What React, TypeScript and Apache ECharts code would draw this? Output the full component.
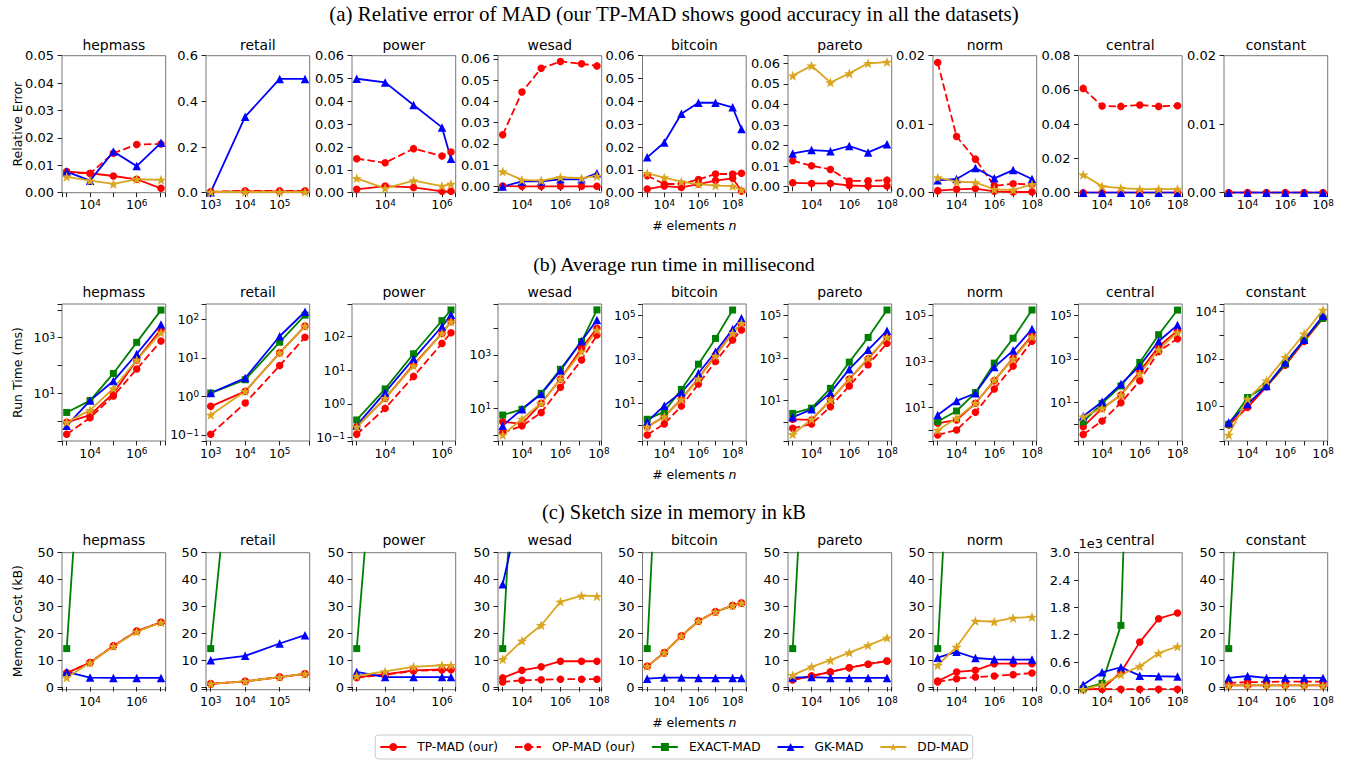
import React, { useEffect, useRef } from 'react';
import * as echarts from 'echarts';

const FONT = 'DejaVu Sans';
const SERIF = 'Liberation Serif';

const DATASETS = ['hepmass', 'retail', 'power', 'wesad', 'bitcoin', 'pareto', 'norm', 'central', 'constant'];
const METHODS = ['TP-MAD (our)', 'OP-MAD (our)', 'EXACT-MAD', 'GK-MAD', 'DD-MAD'];
const TITLES = [
  '(a) Relative error of MAD (our TP-MAD shows good accuracy in all the datasets)',
  '(b) Average run time in millisecond',
  '(c) Sketch size in memory in kB',
];
const Y_LABELS = ['Relative Error', 'Run Time (ms)', 'Memory Cost (kB)'];

// number of elements n (x values) per dataset
const N_HEPMASS = [1e3, 1e4, 1e5, 1e6, 1.1e7];
const N_RETAIL = [1e3, 1e4, 1e5, 5.42e5];
const N_POWER = [1e3, 1e4, 1e5, 1e6, 2.075e6];
const N_WESAD = [1e3, 1e4, 1e5, 1e6, 1.25e7, 7.9e7];
const N_BITCOIN = [1e3, 1e4, 1e5, 1e6, 1e7, 1e8, 3.3e8];
const N_SYNTH = [1e3, 1e4, 1e5, 1e6, 1e7, 1e8];
const N_VALUES = [N_HEPMASS, N_RETAIL, N_POWER, N_WESAD, N_BITCOIN, N_SYNTH, N_SYNTH, N_SYNTH, N_SYNTH];

// x tick label exponents
const X_TICK_EXPONENTS = [[4, 6], [3, 4, 5], [4, 6], [4, 6, 8], [4, 6, 8], [4, 6, 8], [4, 6, 8], [4, 6, 8], [4, 6, 8]];

// (a) relative error
const ERR_TP = [
  [0.0077, 0.0071, 0.0061, 0.0049, 0.0016],
  [0.003, 0.006, 0.006, 0.006],
  [0.0015, 0.0029, 0.0023, 0.0006, 0.0006],
  [0.0002, 0.0001, 0.0001, 0.0001, 0.0001, 0.0001],
  [0.0016, 0.0029, 0.0023, 0.0038, 0.0053, 0.0063, 0.0007],
  [0.0019, 0.0016, 0.0016, 0.0006, 0.0003, 0.0003],
  [0.0003, 0.0005, 0.0006, 0.0002, 0.0001, 0.0001],
  [0, 0, 0, 0, 0, 0],
  [0, 0, 0, 0, 0, 0],
];
const ERR_OP = [
  [0.0075, 0.007, 0.0144, 0.0176, 0.0178],
  [0.004, 0.008, 0.008, 0.008],
  [0.0149, 0.0131, 0.0193, 0.0161, 0.0178],
  [0.0243, 0.0444, 0.0556, 0.0588, 0.0577, 0.0567],
  [0.0074, 0.0038, 0.0038, 0.0058, 0.0082, 0.0082, 0.0085],
  [0.0126, 0.0102, 0.0084, 0.0028, 0.0029, 0.0032],
  [0.019, 0.0082, 0.0049, 0.001, 0.0013, 0.0012],
  [0.0609, 0.0506, 0.0504, 0.0512, 0.0504, 0.0508],
  [0, 0, 0, 0, 0, 0],
];
const ERR_EXACT = [null, null, null, null, null, null, null, null, null];
const ERR_GK = [
  [0.0077, 0.0044, 0.015, 0.0097, 0.0182],
  [0.002, 0.333, 0.4985, 0.4985],
  [0.0499, 0.0483, 0.0384, 0.0286, 0.0149],
  [0, 0.0024, 0.0024, 0.0034, 0.0034, 0.0063],
  [0.0155, 0.022, 0.0346, 0.0394, 0.0394, 0.0374, 0.0279],
  [0.0162, 0.0178, 0.0173, 0.0198, 0.0167, 0.0206],
  [0.0018, 0.002, 0.0036, 0.0021, 0.0033, 0.002],
  [0, 0, 0, 0, 0, 0],
  [0, 0, 0, 0, 0, 0],
];
const ERR_DD = [
  [0.0058, 0.0044, 0.0032, 0.0049, 0.0047],
  [0.003, 0.003, 0.003, 0.003],
  [0.0063, 0.0019, 0.0053, 0.0029, 0.0038],
  [0.0071, 0.0031, 0.0028, 0.0044, 0.0039, 0.005],
  [0.0085, 0.0066, 0.0048, 0.0038, 0.0031, 0.0029, 0.0013],
  [0.054, 0.0588, 0.0507, 0.0551, 0.06, 0.0606],
  [0.0022, 0.0016, 0.0015, 0.0005, 0.0004, 0.0012],
  [0.0105, 0.0037, 0.0027, 0.0021, 0.0021, 0.0021],
  null,
];
const ERR_MIN = [0, 0, 0, -0.0029, 0, -0.0029, 0, 0, 0];
const ERR_MAX = [0.05, 0.6, 0.06, 0.0615, 0.06, 0.0637, 0.02, 0.08, 0.02];
const ERR_STEP = [0.01, 0.2, 0.01, 0.01, 0.01, 0.01, 0.01, 0.02, 0.01];
const ERR_DECIMALS = [2, 1, 2, 2, 2, 2, 2, 2, 2];

// (b) run time in ms
const TIME_TP = [
  [0.91, 1.67, 10, 158, 1990],
  [0.55, 1.35, 13.5, 67],
  [0.21, 1.47, 14.7, 125, 280],
  [3.16, 2.6, 15.4, 126, 1780, 10000],
  [0.86, 2.46, 15.8, 138, 1580, 16600, 41500],
  [1.32, 1.23, 10.7, 104, 930, 9600],
  [2.0, 2.8, 15, 146, 1400, 13500],
  [0.76, 5.3, 22, 265, 3800, 20500],
  [0.16, 0.88, 6.6, 54, 540, 5200],
];
const TIME_OP = [
  [0.34, 1.34, 8, 75, 760],
  [0.104, 0.67, 6.3, 34.5],
  [0.125, 0.74, 6.6, 63, 131],
  [1.23, 2.2, 6.9, 61, 650, 5600],
  [0.36, 1.15, 7.5, 76, 800, 7700, 22000],
  [0.5, 0.8, 5.2, 49, 490, 5000],
  [0.62, 1.02, 6.1, 63, 630, 7700],
  [0.33, 1.4, 9.6, 100, 2250, 8700],
  [0.16, 0.9, 6.8, 56, 560, 5300],
];
const TIME_EXACT = [
  [2.07, 5.5, 52, 680, 9800],
  [1.22, 2.7, 25.5, 129],
  [0.335, 2.8, 31, 300, 620],
  [5.6, 9.2, 36.5, 290, 3160, 49000],
  [1.86, 4.2, 43, 610, 9100, 180000, null],
  [2.5, 4.4, 38, 650, 9400, 185000],
  [2.4, 6.9, 43.7, 850, 10400, 177000],
  [1.28, 9, 57, 700, 13300, 182000],
  [0.17, 2.3, 7, 60, 640, 5200],
];
const TIME_GK = [
  [0.69, 5.5, 27.7, 260, 3000],
  [1.22, 3.0, 36.5, 158],
  [0.23, 2.2, 22, 200, 445],
  [2.24, 9.2, 34.6, 260, 3350, 20500],
  [1.45, 7.8, 31.8, 235, 2250, 24000, 76000],
  [1.65, 3.9, 23.8, 303, 2460, 19600],
  [4.6, 19, 41, 570, 3000, 26000],
  [2.3, 10.7, 70, 490, 6600, 37000],
  [0.2, 1.2, 7, 70, 640, 6600],
];
const TIME_DD = [
  [0.91, 2.5, 15, 158, 1510],
  [0.33, 1.35, 13.5, 67],
  [0.21, 1.47, 13.7, 125, 275],
  [1.0, 4, 15.4, 126, 1330, 8600],
  [0.86, 2.46, 15, 130, 1430, 15500, 44600],
  [0.26, 1.32, 10.7, 104, 1000, 9600],
  [1.0, 3.3, 15, 155, 1300, 12000],
  [2.2, 5.3, 22, 210, 2700, 17000],
  [0.06, 2.0, 11.8, 117, 1150, 11700],
];
const TIME_LOG_MIN = [-0.71, -1.16, -1.1, -0.225, -0.72, -0.9, -0.47, -0.78, -1.48];
const TIME_LOG_MAX = [4.21, 2.4, 2.97, 4.91, 5.53, 5.55, 5.51, 5.54, 4.32];
const TIME_TICK_EXPONENTS = [[1, 3], [-1, 0, 1, 2], [-1, 0, 1, 2], [1, 3], [1, 3, 5], [1, 3, 5], [1, 3, 5], [1, 3, 5], [0, 2, 4]];

// (c) memory in kB
const MEM_TP = [
  [5.2, 9.1, 15.3, 20.8, 24.1],
  [1.2, 2.1, 3.7, 4.9],
  [3.7, 4.7, 6.2, 6.6, 6.6],
  [3.4, 6.2, 7.5, 9.6, 9.6, 9.6],
  [7.7, 12.8, 19, 24.6, 28, 30.3, 31.3],
  [2.7, 4.1, 5.6, 7.2, 8.5, 9.7],
  [2.2, 5.6, 6.2, 8.7, 8.7, 8.7],
  [5, 12, 375, 1037, 1551, 1676],
  [0.6, 0.6, 0.6, 0.6, 0.6, 0.6],
];
const MEM_OP = [
  [5.2, 9.1, 15.3, 20.8, 24.1],
  [1.2, 2.1, 3.7, 4.9],
  [3.5, 4.6, 6.0, 6.3, 6.4],
  [1.9, 2.5, 2.7, 2.9, 2.9, 2.9],
  [7.7, 12.8, 19, 24.6, 28, 30.3, 31.3],
  [2.7, 4.1, 5.6, 7.2, 8.5, 9.7],
  [1.9, 3.1, 3.7, 4.1, 4.6, 5.2],
  [2, 3, 3, 3, 3, 3],
  [1.5, 1.8, 1.9, 2.0, 2.0, 2.0],
];
const MEM_EXACT = [
  [14.3, 143, 1430, 14300, 157000],
  [14.3, 143, 1430, 7750],
  [14.3, 143, 1430, 14300, 29700],
  [14.3, 143, 1430, 14300, 179000, 1130000],
  [14.3, 143, 1430, 14300, 143000, 1430000, null],
  [14.3, 143, 1430, 14300, 143000, 1430000],
  [14.3, 143, 1430, 14300, 143000, 1430000],
  [14, 132, 1404, 14000, 140000, 1400000],
  [14.3, 143, 1430, 14300, 143000, 1430000],
];
const MEM_GK = [
  [5.6, 3.5, 3.4, 3.4, 3.4],
  [10.0, 11.6, 16.2, 19.3],
  [5.6, 3.7, 3.7, 3.7, 3.7],
  [38.3, 70, 95, 110, 120, 125],
  [3.1, 3.5, 3.5, 3.4, 3.4, 3.4, 3.4],
  [3.5, 3.7, 3.4, 3.4, 3.4, 3.4],
  [10.9, 13.1, 10.8, 10.3, 10.2, 10.2],
  [103, 375, 485, 300, 287, 280],
  [3.4, 4.1, 3.4, 3.4, 3.4, 3.4],
];
const MEM_DD = [
  [3.5, 9, 15.2, 20.6, 24],
  [1.2, 2.1, 3.7, 4.9],
  [4.1, 5.8, 7.5, 8.1, 8.1],
  [10.3, 17.2, 23, 31.7, 34, 33.8],
  [7.7, 12.8, 19, 24.6, 28, 30.3, 31.3],
  [4.4, 7.5, 10, 12.8, 15.5, 18.3],
  [8.1, 14.9, 24.6, 24.3, 25.7, 26.1],
  [4, 100, 323, 507, 794, 941],
  [0.6, 0.6, 0.6, 0.6, 0.6, 0.6],
];
const MEM_MIN = [-1, -1, -1, -1, -1, -1, -1, -8, -1];
const MEM_MAX = [50, 50, 50, 50, 50, 50, 50, 3000, 50];
const MEM_STEP = [10, 10, 10, 10, 10, 10, 10, 600, 10];

// layout (pixels)
const GRID_LEFT = [62, 206, 352, 498, 642.5, 788, 933, 1078.5, 1224];
const GRID_WIDTH = 103.7;
const ROW_TOP = [55.7, 304, 552.7];
const ROW_HEIGHT = 137;
const X_LOG_MIN = [2.798, 2.863, 2.834, 2.755, 2.724, 2.75, 2.75, 2.75, 2.75];
const X_LOG_MAX = [7.243, 5.871, 6.483, 8.145, 8.796, 8.25, 8.25, 8.25, 8.25];
const TITLE_CENTER_Y = [13.8, 264, 512];
const TITLE_SIZES = [21, 19.8, 20.4];
const SUBTITLE_CENTER_Y = [44.5, 291.9, 540.2];

const COLORS = ['#ff0000', '#ff0000', '#008000', '#0000ff', '#daa520'];
const STAR = 'path://M0,-10L2.35,-3.24L9.51,-3.09L3.8,1.24L5.88,8.09L0,4L-5.88,8.09L-3.8,1.24L-9.51,-3.09L-2.35,-3.24Z';
const SYMBOLS = ['circle', 'circle', 'rect', 'triangle', STAR];
const SYMBOL_SIZES = [7.5, 7.5, 7, 8.5, 10.5];
const LINE_TYPES: any[] = ['solid', [7.5, 3.3], 'solid', 'solid', 'solid'];

const RICH = {
  b: { fontSize: 12.5, fontFamily: FONT, color: '#000', lineHeight: 13, verticalAlign: 'bottom', padding: [3, 0, 0, 0] },
  e: { fontSize: 8.8, fontFamily: FONT, color: '#000', lineHeight: 9, verticalAlign: 'top' },
};

const logLabel = (exps: number[]) => (v: number) => {
  const l = Math.log10(v);
  const e = Math.round(l);
  if (Math.abs(l - e) > 1e-6 || exps.indexOf(e) < 0) return '';
  return `{b|10}{e|${e < 0 ? '\u2212' + -e : e}}`;
};

const linLabel = (step: number, dec: number, scale = 1) => (v: number) => {
  const k = Math.round(v / step);
  if (Math.abs(v - k * step) > step * 1e-6) return '';
  return ((k * step) / scale).toFixed(dec);
};

const TICK = { show: true, length: 4.5, lineStyle: { color: '#222', width: 1 } };

// text placed by its top edge (centre minus half of the line height)
function topText(text: string, x: number, centerY: number, size: number, family: string, align: string) {
  return {
    type: 'text', silent: true, x, y: centerY - size / 2,
    style: {
      text, x: 0, y: 0, align, textAlign: align, verticalAlign: 'top', textVerticalAlign: 'top',
      fontSize: size, fontFamily: family, fill: '#000', lineHeight: size,
    },
  };
}

function buildOption() {
  const grid: any[] = [];
  const xAxis: any[] = [];
  const yAxis: any[] = [];
  const series: any[] = [];
  const graphic: any[] = [];

  const rows = [
    [ERR_TP, ERR_OP, ERR_EXACT, ERR_GK, ERR_DD],
    [TIME_TP, TIME_OP, TIME_EXACT, TIME_GK, TIME_DD],
    [MEM_TP, MEM_OP, MEM_EXACT, MEM_GK, MEM_DD],
  ];

  rows.forEach((rowData, r) => {
    DATASETS.forEach((name, c) => {
      const idx = r * 9 + c;
      grid.push({
        left: GRID_LEFT[c], top: ROW_TOP[r], width: GRID_WIDTH, height: ROW_HEIGHT,
        show: true, borderColor: '#777', borderWidth: 1, backgroundColor: 'transparent',
        containLabel: false, outerBoundsMode: 'none',
      });
      xAxis.push({
        type: 'log', logBase: 10, gridIndex: idx,
        min: Math.pow(10, X_LOG_MIN[c]), max: Math.pow(10, X_LOG_MAX[c]),
        axisLine: { show: false }, axisTick: TICK, splitLine: { show: false },
        axisLabel: { formatter: logLabel(X_TICK_EXPONENTS[c]), rich: RICH, margin: 5.5 },
      });
      if (r === 0) {
        yAxis.push({
          type: 'value', gridIndex: idx, min: ERR_MIN[c], max: ERR_MAX[c],
          minInterval: ERR_STEP[c], maxInterval: ERR_STEP[c],
          axisLine: { show: false }, axisTick: TICK, splitLine: { show: false },
          axisLabel: { formatter: linLabel(ERR_STEP[c], ERR_DECIMALS[c]), fontSize: 13, fontFamily: FONT, color: '#000', margin: 8 },
        });
      } else if (r === 1) {
        yAxis.push({
          type: 'log', logBase: 10, gridIndex: idx,
          min: Math.pow(10, TIME_LOG_MIN[c]), max: Math.pow(10, TIME_LOG_MAX[c]),
          axisLine: { show: false }, axisTick: TICK, splitLine: { show: false },
          axisLabel: { formatter: logLabel(TIME_TICK_EXPONENTS[c]), rich: RICH, margin: 7 },
        });
      } else {
        const central = MEM_STEP[c] > 10;
        yAxis.push({
          type: 'value', gridIndex: idx, min: MEM_MIN[c], max: MEM_MAX[c],
          minInterval: MEM_STEP[c], maxInterval: MEM_STEP[c],
          axisLine: { show: false }, axisTick: TICK, splitLine: { show: false },
          axisLabel: {
            formatter: central ? linLabel(MEM_STEP[c], 1, 1000) : linLabel(MEM_STEP[c], 0),
            fontSize: 13, fontFamily: FONT, color: '#000', margin: 8,
          },
        });
      }

      rowData.forEach((methodData, m) => {
        const ys = methodData[c];
        if (!ys) return;
        const xs = N_VALUES[c];
        const data = xs.map((x, i) => [x, ys[i] == null ? '-' : ys[i]]);
        series.push({
          type: 'line', name: METHODS[m], xAxisIndex: idx, yAxisIndex: idx,
          data, symbol: SYMBOLS[m], symbolSize: SYMBOL_SIZES[m], symbolKeepAspect: true,
          showSymbol: true, clip: true, animation: false, silent: true,
          itemStyle: { color: COLORS[m], borderWidth: 0 },
          lineStyle: { color: COLORS[m], width: 1.8, type: LINE_TYPES[m] },
          emphasis: { disabled: true },
        });
      });

      graphic.push(topText(name, GRID_LEFT[c] + GRID_WIDTH / 2, SUBTITLE_CENTER_Y[r], 13.9, FONT, 'center'));
    });

    const rowTop = ROW_TOP[r];
    graphic.push(topText(TITLES[r], 674, TITLE_CENTER_Y[r], TITLE_SIZES[r], SERIF, 'center'));
    // rotated y label: after a 90° turn the text's top edge faces left, so x is its left edge
    graphic.push({
      type: 'text', silent: true, x: 17 - 12.5 / 2, y: rowTop + ROW_HEIGHT / 2, rotation: Math.PI / 2,
      style: {
        text: Y_LABELS[r], x: 0, y: 0,
        align: 'center', textAlign: 'center', verticalAlign: 'top', textVerticalAlign: 'top',
        fontSize: 12.5, fontFamily: FONT, fill: '#000', lineHeight: 12.5,
      },
    });
    graphic.push({
      type: 'text', silent: true, x: GRID_LEFT[4] + GRID_WIDTH / 2, y: rowTop + ROW_HEIGHT + 33 - 6.25,
      style: {
        text: '{a|# elements }{i|n}', x: 0, y: 0,
        align: 'center', textAlign: 'center', verticalAlign: 'top', textVerticalAlign: 'top',
        rich: {
          a: { fontSize: 12.5, fontFamily: FONT, fill: '#000', color: '#000', lineHeight: 12.5 },
          i: { fontSize: 12.5, fontFamily: FONT, fontStyle: 'italic', fill: '#000', color: '#000', lineHeight: 12.5 },
        },
      },
    });
  });

  graphic.push(topText('1e3', GRID_LEFT[7], 543.5, 13, FONT, 'left'));

  return {
    animation: false,
    backgroundColor: '#ffffff',
    grid, xAxis, yAxis, series, graphic,
    legend: {
      show: true, data: METHODS, left: 'center', top: 735, orient: 'horizontal',
      itemWidth: 26, itemHeight: 10, itemGap: 16, selectedMode: false,
      textStyle: { fontSize: 12.2, fontFamily: FONT, color: '#000', padding: [0, 0, 0, 6] },
      borderColor: '#cccccc', borderWidth: 1, borderRadius: 3, padding: [6, 4, 6, 4],
      backgroundColor: '#ffffff',
    },
    tooltip: { show: false },
  };
}

export default function App() {
  const ref = useRef<HTMLDivElement>(null);
  useEffect(() => {
    document.body.style.margin = '0';
    document.body.style.padding = '0';
    document.documentElement.style.overflow = 'hidden';
    if (!ref.current) return;
    const chart = echarts.init(ref.current, null, { renderer: 'svg' });
    chart.setOption(buildOption() as any);
    return () => chart.dispose();
  }, []);
  return (
    <div
      ref={ref}
      style={{ position: 'absolute', left: 0, top: 0, width: 1348, height: 763, background: '#fff' }}
    />
  );
}
